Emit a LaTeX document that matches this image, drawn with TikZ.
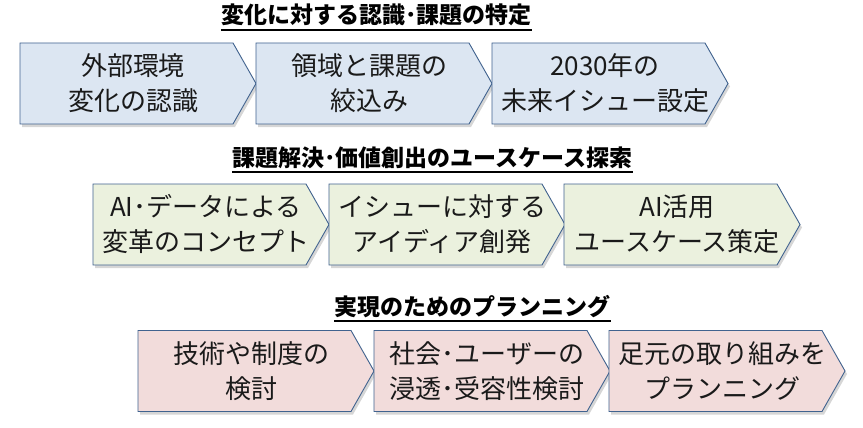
\documentclass[tikz,border=0pt]{standalone}
\usepackage{fontspec}
\setmainfont{Noto Sans CJK JP}
\definecolor{fblue}{HTML}{DCE6F2}
\definecolor{fgreen}{HTML}{EBF1DE}
\definecolor{fpink}{HTML}{F2DCDB}
\definecolor{edgec}{HTML}{41638F}
\definecolor{txtc}{HTML}{1A1A1A}
\tikzset{
  boxline/.style={draw=edgec, line width=0.9pt, line join=miter},
  shadowc/.style={fill=black, opacity=0.16},
  boxtext/.style={align=center, text=txtc, inner sep=0pt, font=\fontsize{26}{35}\selectfont},
  titletext/.style={anchor=base, inner sep=0pt, font=\fontsize{23}{28}\selectfont\bfseries},
  uline/.style={draw=black, line width=1.2pt}
}
\newcommand\chevbox[5]{%
  \fill[shadowc] (#2+2,#3+3) -- ++(213,0) -- ++(23,40.5) -- ++(-23,40.5) -- ++(-213,0) -- cycle;
  \draw[boxline, fill=#4] (#2,#3) -- ++(213,0) -- ++(23,40.5) -- ++(-23,40.5) -- ++(-213,0) -- cycle;
  \node[boxtext] (#1) at (#2+113,#3+40.5) {#5};
}
\newcommand\utitle[4]{%
  \node[titletext] (#1) at (#2,#3) {#4};
  \draw[uline] ([yshift=-6pt]#1.base west) -- ([yshift=-6pt]#1.base east);
}
\begin{document}
\begin{tikzpicture}[x=1pt,y=-1pt]
\useasboundingbox[fill=white] (0,0) rectangle (863,428);
% row 1
\utitle{t1}{376.5}{24}{変化に対する認識･課題の特定}
\chevbox{a1}{20}{43}{fblue}{外部環境\\変化の認識}
\chevbox{a2}{256}{43}{fblue}{領域と課題の\\絞込み}
\chevbox{a3}{492}{43}{fblue}{2030年の\\未来イシュー設定}
% row 2
\utitle{t2}{432.5}{166}{課題解決･価値創出のユースケース探索}
\chevbox{b1}{93}{184}{fgreen}{AI･データによる\\変革のコンセプト}
\chevbox{b2}{329}{184}{fgreen}{イシューに対する\\アイディア創発}
\chevbox{b3}{564}{184}{fgreen}{AI活用\\ユースケース策定}
% row 3
\utitle{t3}{472.5}{315}{実現のためのプランニング}
\chevbox{c1}{138}{330.5}{fpink}{技術や制度の\\検討}
\chevbox{c2}{374}{330.5}{fpink}{社会･ユーザーの\\浸透･受容性検討}
\chevbox{c3}{609}{330.5}{fpink}{足元の取り組みを\\プランニング}
\end{tikzpicture}
\end{document}
